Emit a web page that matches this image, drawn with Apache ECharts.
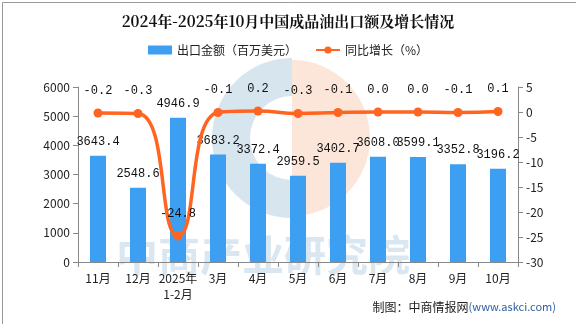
<!DOCTYPE html>
<html><head><meta charset="utf-8">
<script src="https://cdn.jsdelivr.net/npm/echarts@6/dist/echarts.min.js"></script>
<style>html,body{margin:0;padding:0;background:#fff}#c{width:576px;height:324px}</style>
</head><body><div id="c"></div>
<script>
const categories = ['11月','12月','2025年\n1-2月','3月','4月','5月','6月','7月','8月','9月','10月'];
const exportValue = [3643.4, 2548.6, 4946.9, 3683.2, 3372.4, 2959.5, 3402.7, 3608.0, 3599.1, 3352.8, 3196.2];
const yoyGrowth = [-0.2, -0.3, -24.8, -0.1, 0.2, -0.3, -0.1, 0.0, 0.0, -0.1, 0.1];
const leftTicks = {min: 0, max: 6000, interval: 1000};
const rightTicks = {min: -30, max: 5, interval: 5};

const chart = echarts.init(document.getElementById('c'));
const font = '"Noto Sans CJK SC", sans-serif';
const mono = '"Liberation Mono", "DejaVu Sans Mono", monospace';
chart.setOption({
  animation: false,
  backgroundColor: '#fff',
  title: {
    text: '2024年-2025年10月中国成品油出口额及增长情况',
    left: 'center', top: 9,
    textStyle: {fontSize: 15, fontWeight: 'bold', color: '#111', fontFamily: '"Noto Serif CJK SC", "Noto Sans CJK SC", serif'}
  },
  legend: {
    top: 39, left: 'center', itemGap: 18, itemWidth: 24, itemHeight: 9,
    textStyle: {fontSize: 12, color: '#222', fontFamily: font},
    data: [{name: '出口金额（百万美元）', icon: 'rect'}, {name: '同比增长（%）'}]
  },
  grid: {left: 78, right: 58, top: 87, bottom: 62},
  graphic: [
    {type: 'rect', left: 0, top: 0, shape: {width: 575, height: 323}, style: {fill: 'none', stroke: '#999', lineWidth: 1}, z: -10},
    {type: 'sector', shape: {cx: 292, cy: 138, r: 80, r0: 42, startAngle: Math.PI/2, endAngle: Math.PI*1.5}, style: {fill: 'rgba(140,180,210,0.35)'}, z: -5},
    {type: 'sector', shape: {cx: 292, cy: 138, r: 78, r0: 0, startAngle: -Math.PI/2, endAngle: Math.PI/2}, style: {fill: 'rgba(245,170,130,0.3)'}, z: -5},
    {type: 'text', left: 116, top: 234, style: {text: '中商产业研究院', fontSize: 42, fontWeight: 'bold', fill: 'rgba(140,180,210,0.32)', fontFamily: font}, z: -5},
    {type: 'text', right: 20, top: 301, style: {rich: {a: {fontSize: 12, fill: '#222', fontFamily: font}, b: {fontSize: 11, fill: '#3060a0', fontFamily: font}}, text: '{a|制图：中商情报网}{b|(www.askci.com)}'}}
  ],
  xAxis: {
    type: 'category', data: categories,
    axisLine: {lineStyle: {color: '#888'}},
    axisTick: {show: true, lineStyle: {color: '#888'}},
    axisLabel: {color: '#222', fontSize: 12, fontFamily: font, interval: 0, lineHeight: 16, margin: 8}
  },
  yAxis: [
    {type: 'value', min: leftTicks.min, max: leftTicks.max, interval: leftTicks.interval,
     axisLine: {show: true, lineStyle: {color: '#888'}}, axisTick: {show: true, lineStyle: {color: '#888'}},
     splitLine: {show: false}, axisLabel: {color: '#222', fontSize: 12, fontFamily: font, formatter: v => String(v)}},
    {type: 'value', min: rightTicks.min, max: rightTicks.max, interval: rightTicks.interval,
     axisLine: {show: true, lineStyle: {color: '#888'}}, axisTick: {show: true, lineStyle: {color: '#888'}},
     splitLine: {show: false}, axisLabel: {color: '#222', fontSize: 12, fontFamily: font, formatter: v => String(v)}}
  ],
  series: [
    {name: '出口金额（百万美元）', type: 'bar', data: exportValue, barWidth: 16,
     itemStyle: {color: '#3d9ff2'},
     label: {show: true, position: 'top', distance: 8, color: '#111', fontSize: 12, fontFamily: mono,
       formatter: p => p.value.toFixed(1)}},
    {name: '同比增长（%）', type: 'line', yAxisIndex: 1, data: yoyGrowth, smooth: true,
     symbol: 'circle', symbolSize: 9,
     lineStyle: {color: '#ff6420', width: 3.5}, itemStyle: {color: '#ff6420'},
     label: {show: true, position: 'top', distance: 12, color: '#111', fontSize: 12, fontFamily: mono,
       formatter: p => p.value.toFixed(1)}}
  ]
});
</script></body></html>
